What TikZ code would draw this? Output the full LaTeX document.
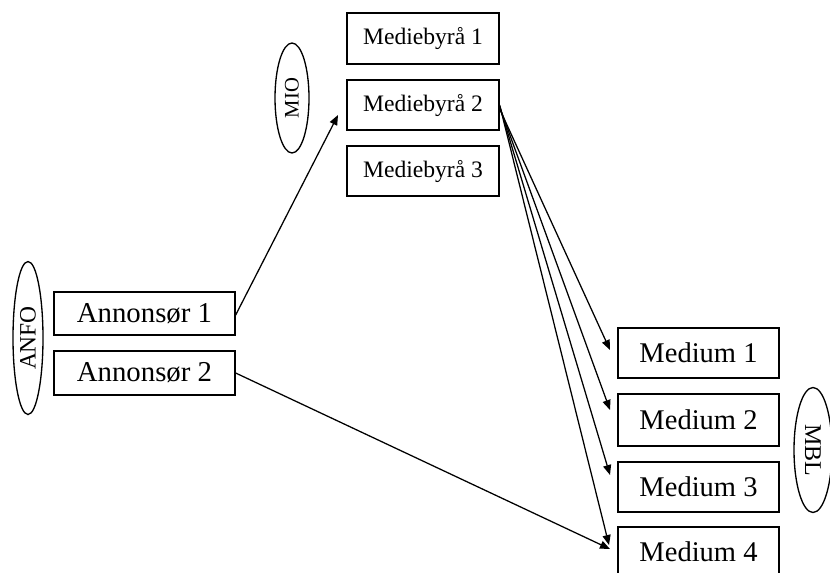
\documentclass[tikz,border=0pt]{standalone}
\usepackage{fontspec}
\setmainfont{Liberation Serif}
\usetikzlibrary{arrows.meta,shapes.geometric}
\begin{document}
\begin{tikzpicture}[x=0.75pt,y=-0.75pt,
  box/.style={draw,line width=1pt,rectangle,inner sep=0pt},
  org/.style={draw,line width=1pt,ellipse,inner sep=0pt},
  conn/.style={line width=0.95pt,-{Triangle[length=7.5pt,width=6pt]}}]
\useasboundingbox (0,0) rectangle (830,572);
% advertisers
\node[box,minimum width=181*0.75pt,minimum height=43*0.75pt,font=\fontsize{21.6pt}{24pt}\selectfont] (A1) at (144.5,313.5) {Annonsør 1};
\node[box,minimum width=181*0.75pt,minimum height=44*0.75pt,font=\fontsize{21.6pt}{24pt}\selectfont] (A2) at (144.5,373) {Annonsør 2};
% agencies
\node[box,minimum width=152*0.75pt,minimum height=51*0.75pt,font=\fontsize{17.7pt}{20pt}\selectfont] (MB1) at (423,38.5) {Mediebyrå 1};
\node[box,minimum width=152*0.75pt,minimum height=50*0.75pt,font=\fontsize{17.7pt}{20pt}\selectfont] (MB2) at (423,105) {Mediebyrå 2};
\node[box,minimum width=152*0.75pt,minimum height=50*0.75pt,font=\fontsize{17.7pt}{20pt}\selectfont] (MB3) at (423,171) {Mediebyrå 3};
% media
\node[box,minimum width=161*0.75pt,minimum height=50*0.75pt,font=\fontsize{21.4pt}{24pt}\selectfont] (M1) at (698.5,353) {Medium 1};
\node[box,minimum width=161*0.75pt,minimum height=52*0.75pt,font=\fontsize{21.4pt}{24pt}\selectfont] (M2) at (698.5,420) {\raisebox{-2pt}{Medium 2}};
\node[box,minimum width=161*0.75pt,minimum height=50*0.75pt,font=\fontsize{21.4pt}{24pt}\selectfont] (M3) at (698.5,487) {\raisebox{-2pt}{Medium 3}};
\node[box,minimum width=161*0.75pt,minimum height=50*0.75pt,font=\fontsize{21.4pt}{24pt}\selectfont] (M4) at (698.5,552) {Medium 4};
% organisations
\node[org,minimum width=30*0.75pt,minimum height=153*0.75pt] (ANFO) at (28,338) {};
\node[rotate=90,font=\fontsize{17.6pt}{20pt}\selectfont] (ANFOt) at (ANFO.center) {ANFO};
\node[org,minimum width=34*0.75pt,minimum height=110*0.75pt] (MIO) at (292,98) {};
\node[rotate=90,font=\fontsize{15.5pt}{18pt}\selectfont] (MIOt) at (MIO.center) {MIO};
\node[org,minimum width=38*0.75pt,minimum height=125*0.75pt] (MBL) at (813,450) {};
\node[rotate=-90,font=\fontsize{18pt}{20pt}\selectfont] (MBLt) at (MBL.center) {MBL};
% connector ends
\coordinate (s0) at ([yshift=-1.5*0.75pt]A1.east);
\coordinate (t0) at (338,115);
\coordinate (s1) at ([yshift=-4*0.75pt]MB2.east);
\coordinate (s2) at ([yshift=-2*0.75pt]MB2.east);
\coordinate (s3) at ([yshift=-1*0.75pt]MB2.east);
\coordinate (s4) at ([yshift=0*0.75pt]MB2.east);
\coordinate (t1) at (610,350);
\coordinate (t2) at (610,410);
\coordinate (t3) at (610,475);
\coordinate (t4) at (609,545);
\coordinate (t5) at (610,549);
\draw[conn] (s0) -- (t0);
\draw[conn] (s1) -- (t1);
\draw[conn] (s2) -- (t2);
\draw[conn] (s3) -- (t3);
\draw[conn] (s4) -- (t4);
\draw[conn] (A2.east) -- (t5);
\end{tikzpicture}
\end{document}
